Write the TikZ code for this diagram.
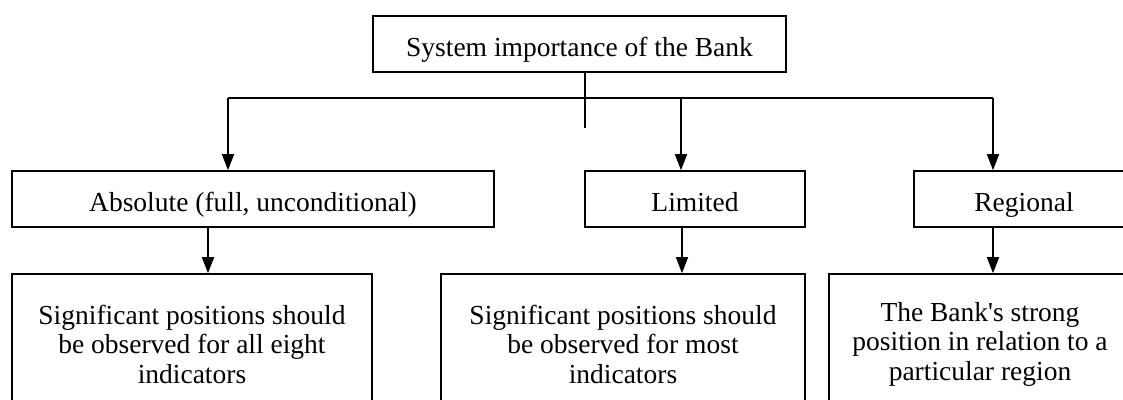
\documentclass[tikz,border=0pt]{standalone}
\usepackage{fontspec}
\setmainfont{Liberation Serif}
\usetikzlibrary{arrows.meta}
\begin{document}
\begin{tikzpicture}[x=1pt,y=-1pt,
  box/.style={draw, line width=1.6pt, inner sep=0pt, align=center,
    font=\fontsize{27.5}{29.5}\selectfont},
  onebox/.style={box, text height=24pt, text depth=0pt, minimum height=56pt},
  conn/.style={line width=1.6pt},
  arr/.style={line width=1.6pt, -{Triangle[length=16pt,width=12pt]}}]
\useasboundingbox (0,0) rectangle (1123,399);
\clip (0,0) rectangle (1123,399);
\fill[white] (0,0) rectangle (1123,399);
% nodes
\node[onebox, minimum width=413pt] (top) at (579.5,44) {System importance of the Bank};
\node[onebox, minimum width=482pt] (abs) at (253,199) {Absolute (full, unconditional)};
\node[onebox, minimum width=220pt] (lim) at (695,199) {Limited};
\node[onebox, minimum width=220pt] (reg) at (1024,199) {Regional};
\node[box, minimum width=360pt, minimum height=140pt] (bl) at (192,344) {Significant positions should\\be observed for all eight\\indicators};
\node[box, minimum width=364pt, minimum height=140pt] (bm) at (623,344) {Significant positions should\\be observed for most\\indicators};
\node[box, minimum width=302pt, minimum height=140pt] (br) at (980,344) {The Bank\textquotesingle s strong\\position in relation to a\\particular region};
% coordinates for connector routing
\coordinate (stemend) at (585,128);
\coordinate (hl) at (228,98);
\coordinate (hm) at (681,98);
\coordinate (hr) at (993,98);
\coordinate (a1) at (208,0);
\coordinate (a2) at (682,0);
\coordinate (a3) at (993,0);
% connectors
\draw[conn] (top.south -| stemend) -- (stemend);
\draw[conn] (hl) -- (hr);
\draw[arr] (hl) -- (hl |- abs.north);
\draw[arr] (hm) -- (hm |- lim.north);
\draw[arr] (hr) -- (hr |- reg.north);
\draw[arr] (abs.south -| a1) -- (bl.north -| a1);
\draw[arr] (lim.south -| a2) -- (bm.north -| a2);
\draw[arr] (reg.south -| a3) -- (br.north -| a3);
\end{tikzpicture}
\end{document}
